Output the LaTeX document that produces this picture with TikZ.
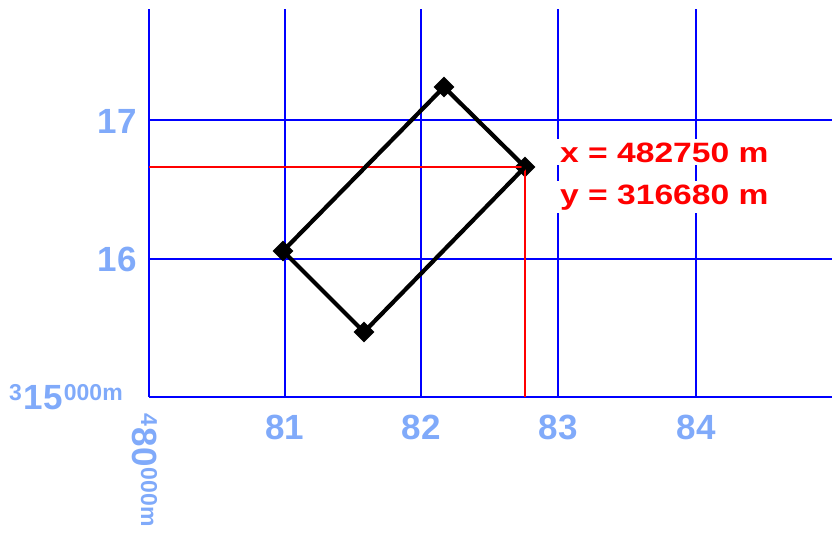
\documentclass[tikz,border=0pt]{standalone}
\usepackage{fontspec}
\setmainfont{Liberation Sans}
\usetikzlibrary{shapes.geometric}
\definecolor{gridblue}{RGB}{0,0,255}
\definecolor{lblblue}{RGB}{128,170,250}
\begin{document}
\begin{tikzpicture}[x=1pt,y=-1pt,
  gridline/.style={gridblue,line width=2pt},
  redline/.style={red,line width=1.8pt},
  lbl/.style={text=lblblue,font=\fontsize{35}{35}\selectfont\bfseries,inner sep=0pt},
  small/.style={},
  coordtext/.style={text=red,fill=white,font=\fontsize{28}{28}\selectfont\bfseries,inner xsep=4pt,inner ysep=3pt,anchor=base west},
  corner/.style={diamond,fill=black,minimum size=21pt,inner sep=0pt},
  outline/.style={black,line width=4.2pt,line join=round}]
\useasboundingbox (0,0) rectangle (832,533);
% grid
\foreach \gx in {149,285,421,558,696}
  \draw[gridline] (\gx,9) -- (\gx,397);
\foreach \gy in {120,259,397}
  \draw[gridline] (149,\gy) -- (832,\gy);
% point and rectangle corners
\node[corner] (t) at (444,87) {};
\node[corner] (r) at (525,167) {};
\node[corner] (b) at (364,332) {};
\node[corner] (l) at (283,251) {};
\coordinate (ax) at (149,167);
\coordinate (ay) at (525,397);
\draw[redline] (ax) -- (r.center);
\draw[redline] (ay) -- (r.center);
\draw[outline] (t.center) -- (r.center) -- (b.center) -- (l.center) -- cycle;
% coordinates text
\node[coordtext] (cx) at (556,162) {\scalebox{1.2}[1]{x = 482750 m}};
\node[coordtext] (cy) at (556,204) {\scalebox{1.2}[1]{y = 316680 m}};
% axis labels
\node[lbl,anchor=east] (n17) at (137,121) {17};
\node[lbl,anchor=east] (n16) at (137,259) {16};
\node[lbl,anchor=north] (e81) at (285,415) {81};
\node[lbl,anchor=north] (e82) at (421,415) {82};
\node[lbl,anchor=north] (e83) at (558,415) {83};
\node[lbl,anchor=north] (e84) at (696,415) {84};
\node[lbl,anchor=base west] (nref) at (9,409)
  {\raisebox{9pt}{\fontsize{23}{23}\selectfont 3}\kern2pt 15\kern1pt\raisebox{9pt}{\fontsize{23}{23}\selectfont 000m}};
\node[lbl,anchor=base west,rotate=-90] (eref) at (132,413)
  {\raisebox{9pt}{\fontsize{23}{23}\selectfont 4}\kern2pt 80\kern1pt\raisebox{9pt}{\fontsize{23}{23}\selectfont 000m}};
\end{tikzpicture}
\end{document}
